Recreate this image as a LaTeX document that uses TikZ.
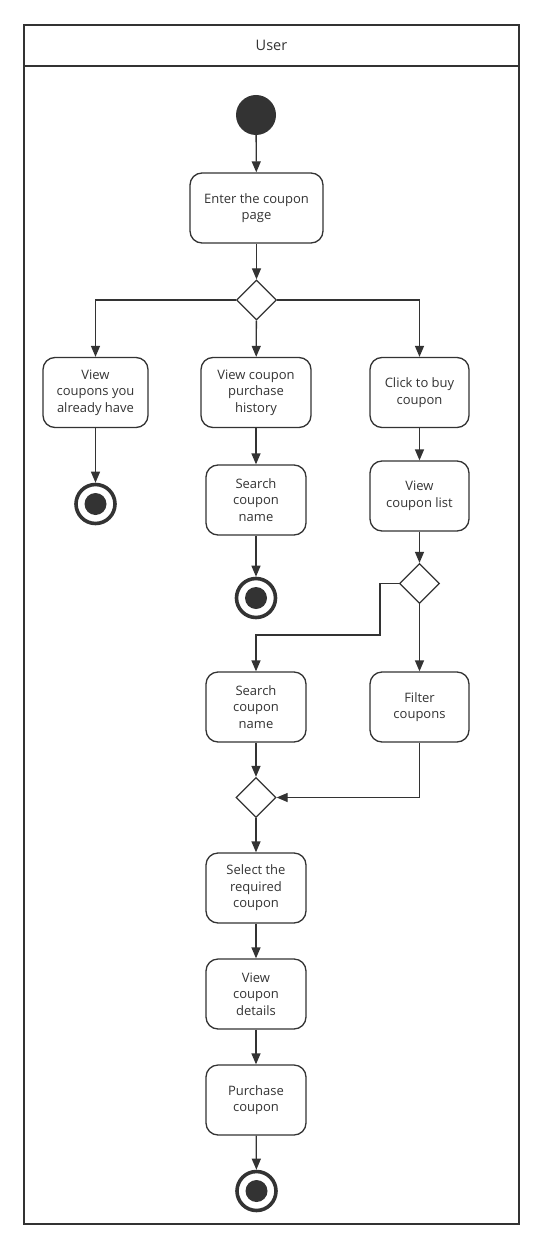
\documentclass[tikz,border=0pt]{standalone}
\usepackage{fontspec}
\setmainfont{Open Sans}
\usetikzlibrary{arrows.meta,shapes.geometric}
\definecolor{ink}{HTML}{333333}
\begin{document}
\begin{tikzpicture}[x=1pt,y=-1pt,
  act/.style={draw=ink,line width=1.3pt,rounded corners=12pt,minimum height=70pt,
    inner sep=0pt,align=center,text=ink,font=\fontsize{13}{16.5}\selectfont},
  dec/.style={diamond,draw=ink,line width=1.3pt,minimum width=40pt,minimum height=40pt,inner sep=0pt},
  startdot/.style={circle,fill=ink,minimum size=40pt,inner sep=0pt},
  enddot/.style={circle,draw=ink,line width=3.6pt,minimum size=39pt,inner sep=0pt,
    path picture={\fill[ink] (path picture bounding box.center) circle (11pt);}},
  flow/.style={draw=ink,line width=1.3pt,-{Triangle[length=11pt,width=9pt]}}]
\useasboundingbox (0,0) rectangle (543,1249);
\draw[ink,line width=1.6pt] (24,25) rectangle (519,1224);
\draw[ink,line width=1.6pt] (24,66) -- (519,66);
\node[text=ink,font=\fontsize{14.5}{17}\selectfont] (lane) at (271.5,45) {User};
\node[startdot] (start) at (256,115) {};
\node[act,minimum width=133pt] (enter) at (256.5,208) {Enter the coupon\\page};
\node[dec] (d1) at (256.5,300) {};
\node[act,minimum width=105pt] (own) at (95.5,392.5) {View\\coupons you\\already have};
\node[act,minimum width=110pt] (hist) at (256,392.5) {View coupon\\purchase\\history};
\node[act,minimum width=99pt] (buy) at (419.5,392.5) {Click to buy\\coupon};
\node[enddot] (end1) at (95.5,504) {};
\node[act,minimum width=100pt] (search1) at (256,500) {Search\\coupon\\name};
\node[enddot] (end2) at (256,598) {};
\node[act,minimum width=99pt] (list) at (419.5,496) {View\\coupon list};
\node[dec] (d2) at (419.5,583.5) {};
\coordinate (bend) at (380,635);
\node[act,minimum width=100pt] (search2) at (256,707) {Search\\coupon\\name};
\node[act,minimum width=99pt] (filter) at (419.5,707) {Filter\\coupons};
\node[dec] (d3) at (256,797.5) {};
\node[act,minimum width=100pt] (select) at (256,888) {Select the\\required\\coupon};
\node[act,minimum width=100pt] (details) at (256,994) {View\\coupon\\details};
\node[act,minimum width=100pt] (pay) at (256,1100) {Purchase\\coupon};
\node[enddot] (end3) at (256.5,1191) {};
\draw[flow] (start) -- (enter);
\draw[flow] (enter) -- (d1);
\draw[flow] (d1.west) -| (own);
\draw[flow] (d1) -- (hist);
\draw[flow] (d1.east) -| (buy);
\draw[flow] (own) -- (end1);
\draw[flow] (hist) -- (search1);
\draw[flow] (search1) -- (end2);
\draw[flow] (buy) -- (list);
\draw[flow] (list) -- (d2);
\draw[flow] (d2.west) -| (bend) -| (search2);
\draw[flow] (d2) -- (filter);
\draw[flow] (search2) -- (d3);
\draw[flow] (filter) |- (d3);
\draw[flow] (d3) -- (select);
\draw[flow] (select) -- (details);
\draw[flow] (details) -- (pay);
\draw[flow] (pay) -- (end3);
\end{tikzpicture}
\end{document}
